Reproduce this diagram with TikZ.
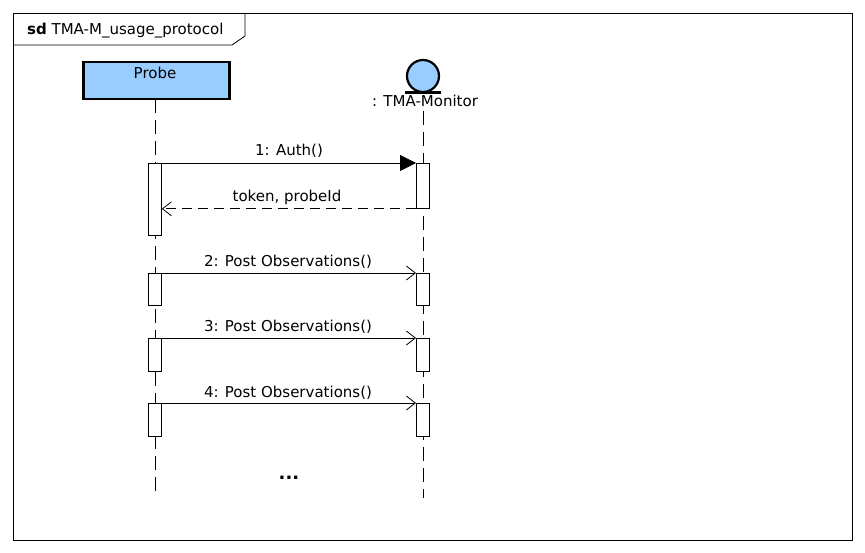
\documentclass[tikz,border=0pt]{standalone}
\usepackage{fontspec}
\setmainfont{DejaVu Sans}
\usetikzlibrary{arrows.meta}
\definecolor{lifeblue}{HTML}{99CCFF}
\begin{document}
\begin{tikzpicture}[x=1pt,y=-1pt,
  txt/.style={font=\fontsize{15}{17}\selectfont, inner sep=0pt},
  lifeline/.style={draw, line width=0.8pt, dash pattern=on 14pt off 7pt},
  actbar/.style={draw, fill=white, line width=0.8pt},
  msg/.style={line width=0.8pt, -{Straight Barb[length=9pt,width=14pt,line width=0.8pt]}},
  syncmsg/.style={line width=0.8pt, -{Triangle[length=16pt,width=16pt]}},
  retmsg/.style={line width=0.8pt, dash pattern=on 10pt off 6pt, -{Straight Barb[length=9pt,width=14pt,line width=0.8pt]}}]
\useasboundingbox (0,0) rectangle (865,553);
% frame
\draw[line width=0.8pt] (13,13) rectangle (852,540);
\draw[line width=0.8pt] (13,45) -- (232,45) -- (245,36) -- (245,13);
\node[txt, anchor=base west] (title) at (27,35) {\textbf{sd} TMA-M\_usage\_protocol};
% Probe
\node[draw, line width=2.5pt, fill=lifeblue, minimum width=146pt, minimum height=37pt, anchor=north west, inner sep=0pt] (probe) at (82,61) {};
\node[txt, anchor=base] (probetxt) at (155,79) {Probe};
% Monitor
\node[draw, circle, line width=2.2pt, fill=lifeblue, minimum size=32pt, inner sep=0pt] (mon) at (423,76) {};
\draw[line width=2.2pt] (405,92.5) -- (441,92.5);
\node[txt, anchor=base] (montxt) at (425,107) {: TMA-Monitor};
% lifelines
\coordinate (pl0) at (155,99);
\coordinate (pl1) at (155,498);
\coordinate (ml0) at (423,111);
\coordinate (ml1) at (423,498);
\draw[lifeline] (pl0) -- (pl1);
\draw[lifeline] (ml0) -- (ml1);
% activation bars
\node[actbar, anchor=north west, minimum width=13pt, minimum height=72pt, inner sep=0pt] (pa1) at (148,163) {};
\node[actbar, anchor=north west, minimum width=13pt, minimum height=45pt, inner sep=0pt] (ma1) at (416,163) {};
\node[actbar, anchor=north west, minimum width=13pt, minimum height=32pt, inner sep=0pt] (pa2) at (148,273) {};
\node[actbar, anchor=north west, minimum width=13pt, minimum height=32pt, inner sep=0pt] (ma2) at (416,273) {};
\node[actbar, anchor=north west, minimum width=13pt, minimum height=33pt, inner sep=0pt] (pa3) at (148,338) {};
\node[actbar, anchor=north west, minimum width=13pt, minimum height=33pt, inner sep=0pt] (ma3) at (416,338) {};
\node[actbar, anchor=north west, minimum width=13pt, minimum height=33pt, inner sep=0pt] (pa4) at (148,403) {};
\node[actbar, anchor=north west, minimum width=13pt, minimum height=33pt, inner sep=0pt] (ma4) at (416,403) {};
% messages
\draw[syncmsg] (pa1.north east) -- (ma1.north west);
\node[txt, anchor=base] (m1) at (289,156) {1: Auth()};
\draw[retmsg] (ma1.south west) -- (pa1.east |- ma1.south);
\node[txt, anchor=base] (r1) at (287,202) {token, probeId};
\draw[msg] (pa2.north east) -- (ma2.north west);
\node[txt, anchor=base] (m2) at (288,267) {2: Post Observations()};
\draw[msg] (pa3.north east) -- (ma3.north west);
\node[txt, anchor=base] (m3) at (288,332) {3: Post Observations()};
\draw[msg] (pa4.north east) -- (ma4.north west);
\node[txt, anchor=base] (m4) at (288,397) {4: Post Observations()};
\node[txt, anchor=base, font=\fontsize{18}{20}\selectfont\bfseries] (dots) at (289,479) {...};
\end{tikzpicture}
\end{document}
